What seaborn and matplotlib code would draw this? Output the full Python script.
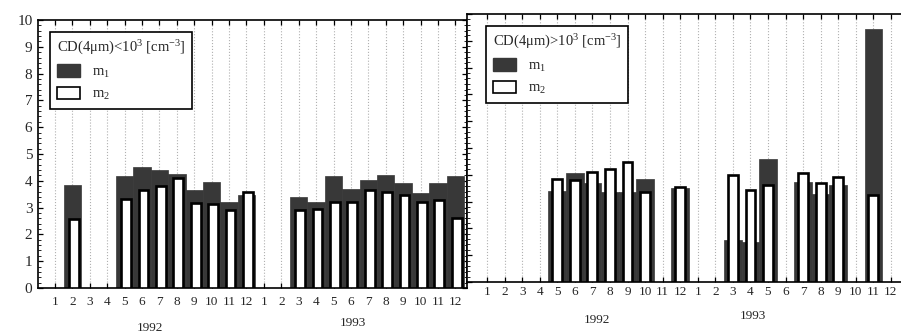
import numpy as np
import pandas as pd
import matplotlib
matplotlib.use("Agg")
import matplotlib.pyplot as plt
from matplotlib.patches import Patch
from matplotlib.ticker import MultipleLocator
import seaborn as sns

# -----------------------------
# Data (monthly values, Jan 1992 .. Dec 1993)
# -----------------------------
nan = np.nan
month_labels = [str(m) for m in range(1, 13)] * 2
years = ["1992", "1993"]

left_m1 = [nan, 3.83, nan, nan, 4.19, 4.52, 4.39, 4.27, 3.66, 3.94, 3.20, 3.48,
           nan, nan, 3.40, 3.22, 4.18, 3.71, 4.03, 4.22, 3.93, 3.56, 3.90, 4.18]
left_m2 = [nan, 2.58, nan, nan, 3.31, 3.64, 3.79, 4.10, 3.16, 3.12, 2.92, 3.60,
           nan, nan, 2.90, 2.96, 3.22, 3.22, 3.66, 3.58, 3.46, 3.22, 3.28, 2.62]

right_m1 = [nan, nan, nan, nan, 3.40, 4.05, 3.70, 3.35, 3.35, 3.86, nan, 3.50,
            nan, nan, 1.58, 1.50, 4.58, nan, 3.75, 3.30, 3.62, nan, 9.45, nan]
right_m2 = [nan, nan, nan, nan, 3.85, 3.80, 4.10, 4.20, 4.47, 3.36, nan, 3.53,
            nan, nan, 3.99, 3.43, 3.62, nan, 4.06, 3.71, 3.90, nan, 3.24, nan]

left_title = "CD(4μm)<10$^3$ [cm$^{-3}$]"
right_title = "CD(4μm)>10$^3$ [cm$^{-3}$]"

dark = "#383838"

# -----------------------------
# Style
# -----------------------------
sns.set_style("white")
plt.rcParams["font.family"] = ["Liberation Serif", "DejaVu Serif"]
plt.rcParams["mathtext.fontset"] = "custom"
plt.rcParams["mathtext.rm"] = "Liberation Serif"
plt.rcParams["mathtext.it"] = "Liberation Serif:italic"

W, H = 901, 335
fig = plt.figure(figsize=(W / 100, H / 100), dpi=100)

axL = fig.add_axes([38 / W, 1 - 288 / H, (467 - 38) / W, (288 - 20) / H])
axR = fig.add_axes([467 / W, 1 - 282 / H, (912 - 467) / W, (282 - 14) / H])


def draw_panel(ax, m1, m2, title, legend_anchor, shift):
    idx = np.arange(1, 25)
    df = pd.DataFrame({"idx": idx, "m1": m1, "m2": m2})
    d1 = df.dropna(subset=["m1"])
    d2 = df.dropna(subset=["m2"]).assign(idx=lambda d: d["idx"] + shift)
    sns.barplot(data=d1, x="idx", y="m1", native_scale=True, width=1.0,
                color=dark, edgecolor=dark, saturation=1, errorbar=None,
                linewidth=0.5, zorder=2, ax=ax)
    sns.barplot(data=d2, x="idx", y="m2", native_scale=True, width=0.56,
                color="white", edgecolor="black", saturation=1, errorbar=None,
                linewidth=1.9, zorder=3, ax=ax)
    ax.set_xlabel("")
    ax.set_ylabel("")
    ax.set_ylim(0, 10)
    ax.set_xticks(idx)
    ax.set_xticklabels(month_labels, fontsize=9.5)
    ax.yaxis.set_major_locator(MultipleLocator(1))
    ax.yaxis.set_minor_locator(MultipleLocator(0.2))
    ax.grid(axis="x", linestyle=":", color="#b0b0b0", linewidth=0.8, zorder=0)
    ax.set_axisbelow(True)
    for s in ax.spines.values():
        s.set_color("black")
        s.set_linewidth(1.2)
    ax.tick_params(axis="both", which="both", direction="in", color="black",
                   top=True, bottom=True, left=True, right=True)
    ax.tick_params(axis="both", which="major", length=3.5, width=0.9)
    ax.tick_params(axis="y", which="minor", length=2, width=0.6)
    leg = ax.legend(handles=[Patch(facecolor=dark, edgecolor=dark, label="m$_1$"),
                             Patch(facecolor="white", edgecolor="black",
                                   linewidth=1.2, label="m$_2$")],
                    title=title, loc="upper left", bbox_to_anchor=legend_anchor,
                    borderaxespad=0, fontsize=10.5, title_fontsize=10.5,
                    frameon=True, fancybox=False, framealpha=1,
                    edgecolor="black", handlelength=1.6, handleheight=0.95,
                    labelspacing=0.5, borderpad=0.45, alignment="left")
    leg.get_frame().set_linewidth(1.2)


# Left panel
draw_panel(axL, left_m1, left_m2, left_title, (0.028, 0.955), 0.08)
axL.set_xlim(0.02, 24.67)
axL.set_yticks(range(0, 11))
axL.tick_params(axis="y", labelsize=11, pad=4)
axL.tick_params(axis="x", pad=6)

# Right panel
draw_panel(axR, right_m1, right_m2, right_title, (0.043, 0.955), 0.0)
axR.set_xlim(-0.14, 25.2)
axR.spines["right"].set_visible(False)
axR.tick_params(axis="y", labelleft=False, right=False)
axR.tick_params(axis="x", pad=3)

# Year labels
fig.text(150 / W, 1 - 328 / H, years[0], ha="center", va="center", fontsize=9.5)
fig.text(353 / W, 1 - 323 / H, years[1], ha="center", va="center", fontsize=9.5)
fig.text(597 / W, 1 - 320 / H, years[0], ha="center", va="center", fontsize=9.5)
fig.text(753 / W, 1 - 316 / H, years[1], ha="center", va="center", fontsize=9.5)

fig.savefig("out.png", dpi=100)
